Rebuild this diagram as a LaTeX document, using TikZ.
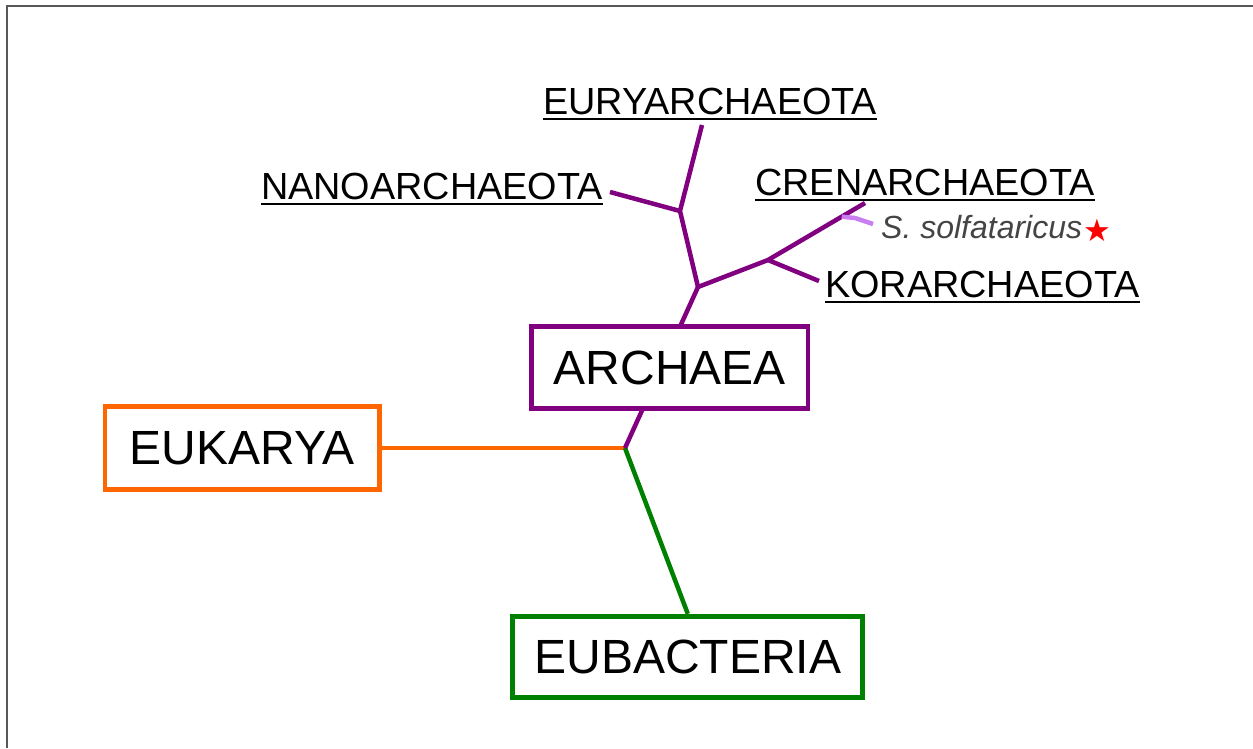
\documentclass[tikz,border=0pt]{standalone}
\usepackage{fontspec}
\setmainfont{Liberation Sans}
\newfontfamily\symfont{DejaVu Sans}
\definecolor{archpurple}{RGB}{128,0,128}
\definecolor{lightpurple}{RGB}{200,125,240}
\definecolor{eukorange}{RGB}{255,102,0}
\definecolor{bacgreen}{RGB}{0,128,0}
\definecolor{framegray}{RGB}{88,88,88}
\definecolor{speciesgray}{RGB}{68,68,68}
\begin{document}
\begin{tikzpicture}[x=1pt,y=-1pt,
  branch/.style={line width=4.5pt},
  domainbox/.style={draw, fill=white, line width=4.8pt, inner sep=0pt,
    font=\fontsize{48}{50}\selectfont},
  phylum/.style={anchor=base west, inner sep=0pt, font=\fontsize{37.8}{40}\selectfont},
  uline/.style={line width=2pt}]
\useasboundingbox (0,0) rectangle (1253,748);
% page frame (top and left edges)
\draw[framegray, line width=2.4pt] (6.8,748) |- (1253,5.8);

% tree junctions and branch ends
\coordinate (root) at (625,448);
\coordinate (j2) at (698,287);
\coordinate (j1) at (680,211);
\coordinate (j3) at (768,260);
\coordinate (euryend) at (702,125);
\coordinate (nanoend) at (610,192);
\coordinate (crenend) at (865,203);
\coordinate (korend) at (819,281);
\coordinate (sbase) at (841.7,216.7);
\coordinate (sbend) at (855,218);
\coordinate (send) at (873,224);

% domain boxes (positioned first, drawn over the branches below)
\path (669.7,367.5) node[domainbox, draw=archpurple, minimum width=276.5pt, minimum height=82.5pt] (archaea) {\phantom{ARCHAEA}};
\path (242.2,448) node[domainbox, draw=eukorange, minimum width=274.5pt, minimum height=83pt] (eukarya) {\phantom{EUKARYA}};
\path (687.8,657) node[domainbox, draw=bacgreen, minimum width=350pt, minimum height=81.5pt] (eubacteria) {\phantom{EUBACTERIA}};

% branches
\draw[branch, eukorange] (eukarya.east) -- (root);
\draw[branch, bacgreen] (root) -- (eubacteria.north);
\draw[branch, archpurple] (root) -- (j2);
\draw[branch, archpurple] (j2) -- (j1) -- (euryend);
\draw[branch, archpurple] (j1) -- (nanoend);
\draw[branch, archpurple] (j2) -- (j3) -- (crenend);
\draw[branch, archpurple] (j3) -- (korend);
\draw[branch, lightpurple] (sbase) -- (sbend) -- (send);

% boxes on top of the branches
\node[domainbox, draw=archpurple, minimum width=276.5pt, minimum height=82.5pt] at (archaea.center) {ARCHAEA};
\node[domainbox, draw=eukorange, minimum width=274.5pt, minimum height=83pt] at (eukarya.center) {EUKARYA};
\node[domainbox, draw=bacgreen, minimum width=350pt, minimum height=81.5pt] at (eubacteria.center) {EUBACTERIA};

% phylum labels, underlined
\node[phylum] (eury) at (543,114) {EURYARCHAEOTA};
\node[phylum] (nano) at (261,199) {NANOARCHAEOTA};
\node[phylum] (cren) at (755,195) {CRENARCHAEOTA};
\node[phylum] (kor) at (825,297) {KORARCHAEOTA};
\foreach \n in {eury,nano,cren,kor}
  \draw[uline] ([yshift=-5pt]\n.base west) -- ([yshift=-5pt]\n.base east);

% species label with marker
\node[anchor=base west, inner sep=0pt, text=speciesgray,
  font=\fontsize{32}{34}\selectfont\itshape] (sso) at (881,238.5) {S. solfataricus};
\node[inner sep=0pt, text=red, font=\symfont\fontsize{31}{32}\selectfont] (star) at (1097.5,230) {★};
\end{tikzpicture}
\end{document}
